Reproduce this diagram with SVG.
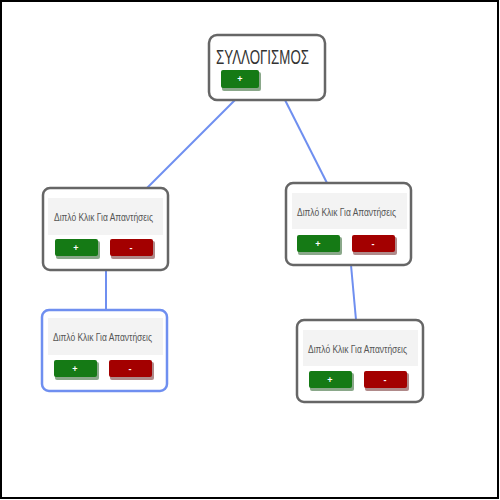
<svg xmlns="http://www.w3.org/2000/svg" width="500" height="500" viewBox="0 0 500 500">
<style>
.box{fill:#fff;stroke:#666;stroke-width:2.5}
.sel{fill:#fff;stroke:#6f8ff0;stroke-width:2.5}
.area{fill:#f3f3f3}
.lbl{font-family:"Liberation Sans","DejaVu Sans",sans-serif;font-size:10px;fill:#555}
.title{font-family:"Liberation Sans","DejaVu Sans",sans-serif;font-size:20px;fill:#333}
.gsh{fill:#8aa88a}
.rsh{fill:#b08a8a}
.g{fill:#157a15}
.r{fill:#a30000}
.sign{font-family:"Liberation Sans","DejaVu Sans",sans-serif;font-size:9px;font-weight:bold;fill:#fff;text-anchor:middle}
.edge{stroke:#6f8ff0;stroke-width:2;fill:none}
</style>
<rect x="1" y="1" width="497" height="497" fill="#fff" stroke="#000" stroke-width="2"/>
<g id="connectors">
<line class="edge" x1="235" y1="100" x2="147" y2="188"/>
<line class="edge" x1="285" y1="100" x2="327" y2="183"/>
<line class="edge" x1="106" y1="270" x2="106" y2="310"/>
<line class="edge" x1="351" y1="265" x2="356" y2="320"/>
</g>
<g id="root">
<rect class="box" x="209" y="35" width="116" height="65" rx="8"/>
<text class="title" x="216" y="64" textLength="93" lengthAdjust="spacingAndGlyphs">ΣΥΛΛΟΓΙΣΜΟΣ</text>
<rect class="gsh" x="222" y="72" width="39" height="19" rx="2"/>
<rect class="g" x="221" y="70" width="38" height="18" rx="2"/>
<text class="sign" x="240" y="82">+</text>
</g>
<g id="n1">
<rect class="box" x="43" y="188" width="125" height="82" rx="7"/>
<rect class="area" x="48" y="198" width="115" height="37"/>
<text class="lbl" x="54" y="221" textLength="99" lengthAdjust="spacingAndGlyphs">Διπλό Κλικ Για Απαντήσεις</text>
<rect class="gsh" x="56" y="241" width="44" height="18" rx="2"/>
<rect class="g" x="55" y="239" width="43" height="17" rx="2"/>
<text class="sign" x="76" y="251">+</text>
<rect class="rsh" x="111" y="241" width="44" height="18" rx="2"/>
<rect class="r" x="110" y="239" width="43" height="17" rx="2"/>
<text class="sign" x="131" y="251">-</text>
</g>
<g id="n2">
<rect class="sel" x="42" y="310" width="125" height="81" rx="7"/>
<rect class="area" x="48" y="318" width="115" height="37"/>
<text class="lbl" x="53" y="341" textLength="99" lengthAdjust="spacingAndGlyphs">Διπλό Κλικ Για Απαντήσεις</text>
<rect class="gsh" x="55" y="362" width="44" height="18" rx="2"/>
<rect class="g" x="54" y="360" width="43" height="17" rx="2"/>
<text class="sign" x="75" y="372">+</text>
<rect class="rsh" x="110" y="362" width="44" height="18" rx="2"/>
<rect class="r" x="109" y="360" width="43" height="17" rx="2"/>
<text class="sign" x="130" y="372">-</text>
</g>
<g id="n3">
<rect class="box" x="286" y="183" width="125" height="82" rx="7"/>
<rect class="area" x="292" y="193" width="115" height="36"/>
<text class="lbl" x="297" y="216" textLength="99" lengthAdjust="spacingAndGlyphs">Διπλό Κλικ Για Απαντήσεις</text>
<rect class="gsh" x="298" y="237" width="44" height="18" rx="2"/>
<rect class="g" x="297" y="235" width="43" height="17" rx="2"/>
<text class="sign" x="318" y="247">+</text>
<rect class="rsh" x="353" y="237" width="44" height="18" rx="2"/>
<rect class="r" x="352" y="235" width="43" height="17" rx="2"/>
<text class="sign" x="373" y="247">-</text>
</g>
<g id="n4">
<rect class="box" x="297" y="320" width="126" height="82" rx="7"/>
<rect class="area" x="303" y="330" width="115" height="36"/>
<text class="lbl" x="308" y="353" textLength="99" lengthAdjust="spacingAndGlyphs">Διπλό Κλικ Για Απαντήσεις</text>
<rect class="gsh" x="310" y="373" width="44" height="18" rx="2"/>
<rect class="g" x="309" y="371" width="43" height="17" rx="2"/>
<text class="sign" x="330" y="383">+</text>
<rect class="rsh" x="365" y="373" width="44" height="18" rx="2"/>
<rect class="r" x="364" y="371" width="43" height="17" rx="2"/>
<text class="sign" x="385" y="383">-</text>
</g>
</svg>
